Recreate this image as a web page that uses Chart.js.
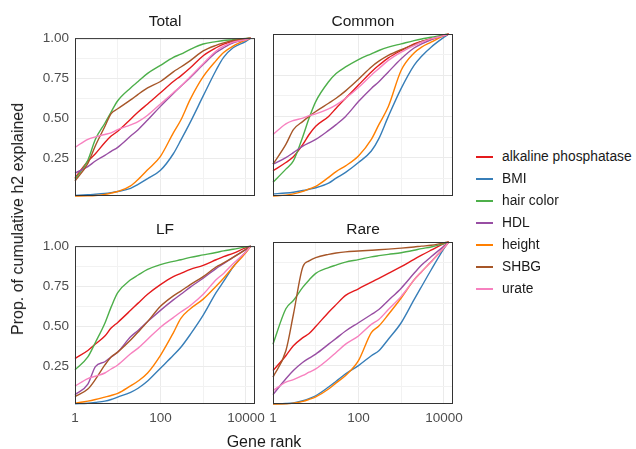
<!DOCTYPE html>
<html><head><meta charset="utf-8">
<script src="https://cdn.jsdelivr.net/npm/chart.js@4.4.1/dist/chart.umd.min.js"></script>
<style>
html,body{margin:0;padding:0;background:#fff;}
body{width:636px;height:449px;overflow:hidden;position:relative;font-family:"Liberation Sans",Arial,sans-serif;}
canvas{position:absolute;}
.t{position:absolute;white-space:nowrap;color:#1a1a1a;line-height:1;}
.strip{font-size:15.5px;transform:translate(-50%,-50%);}
.key{position:absolute;left:476px;width:17px;height:0;border-top:2px solid #000;}
.lab{position:absolute;left:502px;font-size:13.8px;color:#1a1a1a;white-space:nowrap;line-height:1;transform:translateY(-50%);}
</style></head><body>
<script>
// ---- data ----
const geneRank = [1,2,3,5,7,10,20,30,50,100,200,300,500,1000,2000,3000,5000,10000,13000];
const traits = ['alkaline phosphatase','BMI','hair color','HDL','height','SHBG','urate'];
const colors = ['#E41A1C','#377EB8','#4DAF4A','#984EA3','#FF7F00','#A65628','#F781BF'];
const panelNames = ['Total','Common','LF','Rare'];
const xTickLabels = [1,100,10000];
const xGridValues = [1,10,100,1000,10000];
const yTickLabels = [0.25,0.5,0.75,1.0];
const yGridValues = [0.125,0.25,0.375,0.5,0.625,0.75,0.875,1.0];

// Total
const totalAlk    = [0.13,0.234,0.28,0.35,0.39,0.42,0.495,0.54,0.59,0.66,0.73,0.765,0.815,0.89,0.94,0.963,0.98,0.995,1];
const totalBMI    = [0.02,0.025,0.028,0.033,0.038,0.045,0.065,0.09,0.125,0.177,0.28,0.365,0.477,0.64,0.80,0.88,0.94,0.98,1];
const totalHair   = [0.12,0.24,0.37,0.47,0.54,0.61,0.69,0.73,0.78,0.83,0.88,0.90,0.93,0.963,0.978,0.985,0.99,0.998,1];
const totalHDL    = [0.16,0.2,0.235,0.27,0.295,0.32,0.39,0.43,0.49,0.575,0.655,0.70,0.755,0.835,0.91,0.94,0.97,0.99,1];
const totalHeight = [0.017,0.018,0.02,0.027,0.035,0.045,0.08,0.12,0.18,0.264,0.41,0.49,0.62,0.76,0.86,0.91,0.95,0.988,1];
const totalSHBG   = [0.11,0.22,0.33,0.45,0.53,0.56,0.615,0.65,0.69,0.73,0.79,0.82,0.86,0.92,0.955,0.97,0.985,0.997,1];
const totalUrate  = [0.32,0.37,0.385,0.40,0.41,0.43,0.46,0.48,0.52,0.59,0.66,0.70,0.76,0.84,0.92,0.95,0.975,0.99,1];
// Common
const commonAlk    = [0.17,0.22,0.255,0.33,0.39,0.44,0.50,0.55,0.61,0.69,0.77,0.81,0.855,0.90,0.94,0.955,0.97,0.99,1];
const commonBMI    = [0.03,0.035,0.04,0.05,0.058,0.067,0.095,0.125,0.16,0.22,0.29,0.365,0.5,0.67,0.81,0.865,0.92,0.98,1];
const commonHair   = [0.10,0.18,0.23,0.378,0.49,0.59,0.71,0.76,0.80,0.845,0.88,0.90,0.92,0.94,0.96,0.97,0.98,0.995,1];
const commonHDL    = [0.21,0.25,0.28,0.32,0.34,0.36,0.415,0.45,0.50,0.59,0.67,0.71,0.77,0.85,0.915,0.94,0.965,0.99,1];
const commonHeight = [0.017,0.022,0.03,0.045,0.06,0.075,0.13,0.165,0.2,0.26,0.36,0.45,0.56,0.78,0.885,0.92,0.95,0.99,1];
const commonSHBG   = [0.21,0.33,0.42,0.47,0.50,0.53,0.58,0.61,0.655,0.725,0.80,0.835,0.87,0.905,0.935,0.955,0.97,0.99,1];
const commonUrate  = [0.39,0.455,0.475,0.49,0.505,0.515,0.545,0.57,0.61,0.675,0.75,0.79,0.84,0.89,0.93,0.95,0.97,0.99,1];
// LF
const lfAlk    = [0.30,0.35,0.39,0.44,0.49,0.525,0.60,0.645,0.70,0.76,0.81,0.83,0.855,0.88,0.915,0.935,0.955,0.99,1];
const lfBMI    = [0.018,0.022,0.027,0.035,0.045,0.06,0.09,0.115,0.16,0.24,0.32,0.37,0.45,0.57,0.71,0.78,0.87,0.965,1];
const lfHair   = [0.23,0.31,0.40,0.52,0.62,0.71,0.79,0.82,0.855,0.885,0.905,0.915,0.93,0.945,0.96,0.97,0.98,0.995,1];
const lfHDL    = [0.075,0.14,0.25,0.28,0.31,0.34,0.435,0.475,0.53,0.60,0.665,0.70,0.745,0.80,0.86,0.89,0.93,0.98,1];
const lfHeight = [0.022,0.035,0.045,0.06,0.07,0.083,0.13,0.16,0.21,0.32,0.46,0.55,0.61,0.67,0.75,0.80,0.87,0.96,1];
const lfSHBG   = [0.063,0.11,0.17,0.26,0.31,0.34,0.415,0.465,0.53,0.625,0.69,0.72,0.76,0.81,0.87,0.895,0.93,0.98,1];
const lfUrate  = [0.128,0.175,0.19,0.21,0.235,0.26,0.33,0.365,0.42,0.495,0.555,0.59,0.63,0.70,0.79,0.83,0.89,0.965,1];
// Rare
const rareAlk    = [0.22,0.31,0.37,0.42,0.445,0.487,0.574,0.62,0.676,0.716,0.757,0.78,0.81,0.85,0.895,0.92,0.95,0.99,1];
const rareBMI    = [0.017,0.02,0.024,0.037,0.05,0.067,0.12,0.155,0.20,0.25,0.31,0.34,0.41,0.51,0.65,0.73,0.83,0.96,1];
const rareHair   = [0.38,0.595,0.645,0.726,0.77,0.81,0.845,0.86,0.878,0.893,0.91,0.917,0.925,0.935,0.95,0.96,0.97,0.99,1];
const rareHDL    = [0.074,0.17,0.22,0.27,0.295,0.32,0.38,0.415,0.46,0.51,0.56,0.59,0.645,0.72,0.81,0.86,0.91,0.975,1];
const rareHeight = [0.017,0.018,0.022,0.033,0.045,0.06,0.108,0.145,0.19,0.28,0.45,0.49,0.56,0.66,0.77,0.82,0.88,0.965,1];
const rareSHBG   = [0.18,0.34,0.56,0.85,0.885,0.905,0.925,0.933,0.94,0.945,0.95,0.953,0.957,0.963,0.97,0.975,0.98,0.995,1];
const rareUrate  = [0.098,0.15,0.165,0.19,0.21,0.23,0.29,0.33,0.38,0.43,0.50,0.53,0.59,0.67,0.77,0.82,0.88,0.965,1];

const panelSeries = [
  [totalAlk,totalBMI,totalHair,totalHDL,totalHeight,totalSHBG,totalUrate],
  [commonAlk,commonBMI,commonHair,commonHDL,commonHeight,commonSHBG,commonUrate],
  [lfAlk,lfBMI,lfHair,lfHDL,lfHeight,lfSHBG,lfUrate],
  [rareAlk,rareBMI,rareHair,rareHDL,rareHeight,rareSHBG,rareUrate]
];

// ---- layout ----
const PW = 180, PH = 162, YW = 50, PADT = 10, PADR = 20, XH = 24;
const panelPos = [[75,34],[273,34],[75,242],[273,242]];
const tickFont = {family:'"Liberation Sans", Arial, sans-serif', size:13.5};

const framePlugin = {
  id:'frame',
  afterDraw(chart){
    const a = chart.chartArea, c = chart.ctx;
    c.save(); c.strokeStyle = '#333333'; c.lineWidth = 1;
    c.strokeRect(a.left+0.5, a.top+0.5, a.right-a.left-1, a.bottom-a.top-1);
    c.restore();
  }
};

function addText(txt, x, y, cls, style){
  const d = document.createElement('div');
  d.className = 't ' + (cls||'');
  d.textContent = txt;
  d.style.left = x+'px'; d.style.top = y+'px';
  if (style) Object.assign(d.style, style);
  document.body.appendChild(d);
  return d;
}

panelNames.forEach((name, p) => {
  const [L, T] = panelPos[p];
  const showX = p >= 2, showY = p % 2 === 0;
  const cv = document.createElement('canvas');
  cv.width = YW + PW + PADR; cv.height = PADT + PH + XH;
  cv.style.left = (L - YW) + 'px'; cv.style.top = (T - PADT) + 'px';
  document.body.appendChild(cv);
  new Chart(cv, {
    type:'line',
    data:{datasets: panelSeries[p].map((vals, i) => ({
      label: traits[i],
      data: geneRank.map((g, j) => ({x:g, y:vals[j]})),
      borderColor: colors[i], backgroundColor: colors[i],
      borderWidth: 1.4, pointRadius: 0, fill:false,
      cubicInterpolationMode:'monotone',
      order: traits.length - i,
      clip: {left:1, top:2, right:3, bottom:1}
    }))},
    options:{
      responsive:false, animation:false, devicePixelRatio:1,
      layout:{padding:{left:0, top:PADT, right:PADR, bottom:0}},
      plugins:{legend:{display:false}, tooltip:{enabled:false}, title:{display:false}},
      scales:{
        x:{
          type:'logarithmic', min:1, max:16300,
          afterBuildTicks: s => { s.ticks = xGridValues.map(v => ({value:v})); },
          afterFit: s => { s.height = XH; },
          border:{display:false},
          grid:{drawTicks:false,
            color: c => xTickLabels.includes(c.tick && c.tick.value) ? '#EBEBEB' : '#F2F2F2',
            lineWidth: 1},
          ticks:{display:showX, autoSkip:false, maxRotation:0, minRotation:0, padding:6,
            color:'#4D4D4D', font:tickFont,
            callback: v => xTickLabels.includes(v) ? String(v) : ''}
        },
        y:{
          type:'linear', min:0.017, max:1,
          afterBuildTicks: s => { s.ticks = yGridValues.map(v => ({value:v})); },
          afterFit: s => { s.width = YW; },
          border:{display:false},
          grid:{drawTicks:false,
            color: c => yTickLabels.includes(c.tick && c.tick.value) ? '#EBEBEB' : '#F2F2F2',
            lineWidth: 1},
          ticks:{display:showY, padding:6, color:'#4D4D4D', font:tickFont,
            callback: v => yTickLabels.includes(v) ? v.toFixed(2) : ''}
        }
      }
    },
    plugins:[framePlugin]
  });
  addText(name, L + PW/2, T - 13, 'strip');
});

// axis titles
addText('Gene rank', 264, 441.5, '', {fontSize:'16px', transform:'translate(-50%,-50%)'});
addText('Prop. of cumulative h2 explained', 18, 219, '', {fontSize:'16px', transform:'translate(-50%,-50%) rotate(-90deg)'});

// legend
traits.forEach((tr, i) => {
  const y = 157 + 22*i;
  const k = document.createElement('div');
  k.className = 'key';
  k.style.top = (y - 1) + 'px';
  k.style.borderTopColor = colors[i];
  document.body.appendChild(k);
  const l = document.createElement('div');
  l.className = 'lab';
  l.style.top = y + 'px';
  l.textContent = tr;
  document.body.appendChild(l);
});
</script>
</body></html>
